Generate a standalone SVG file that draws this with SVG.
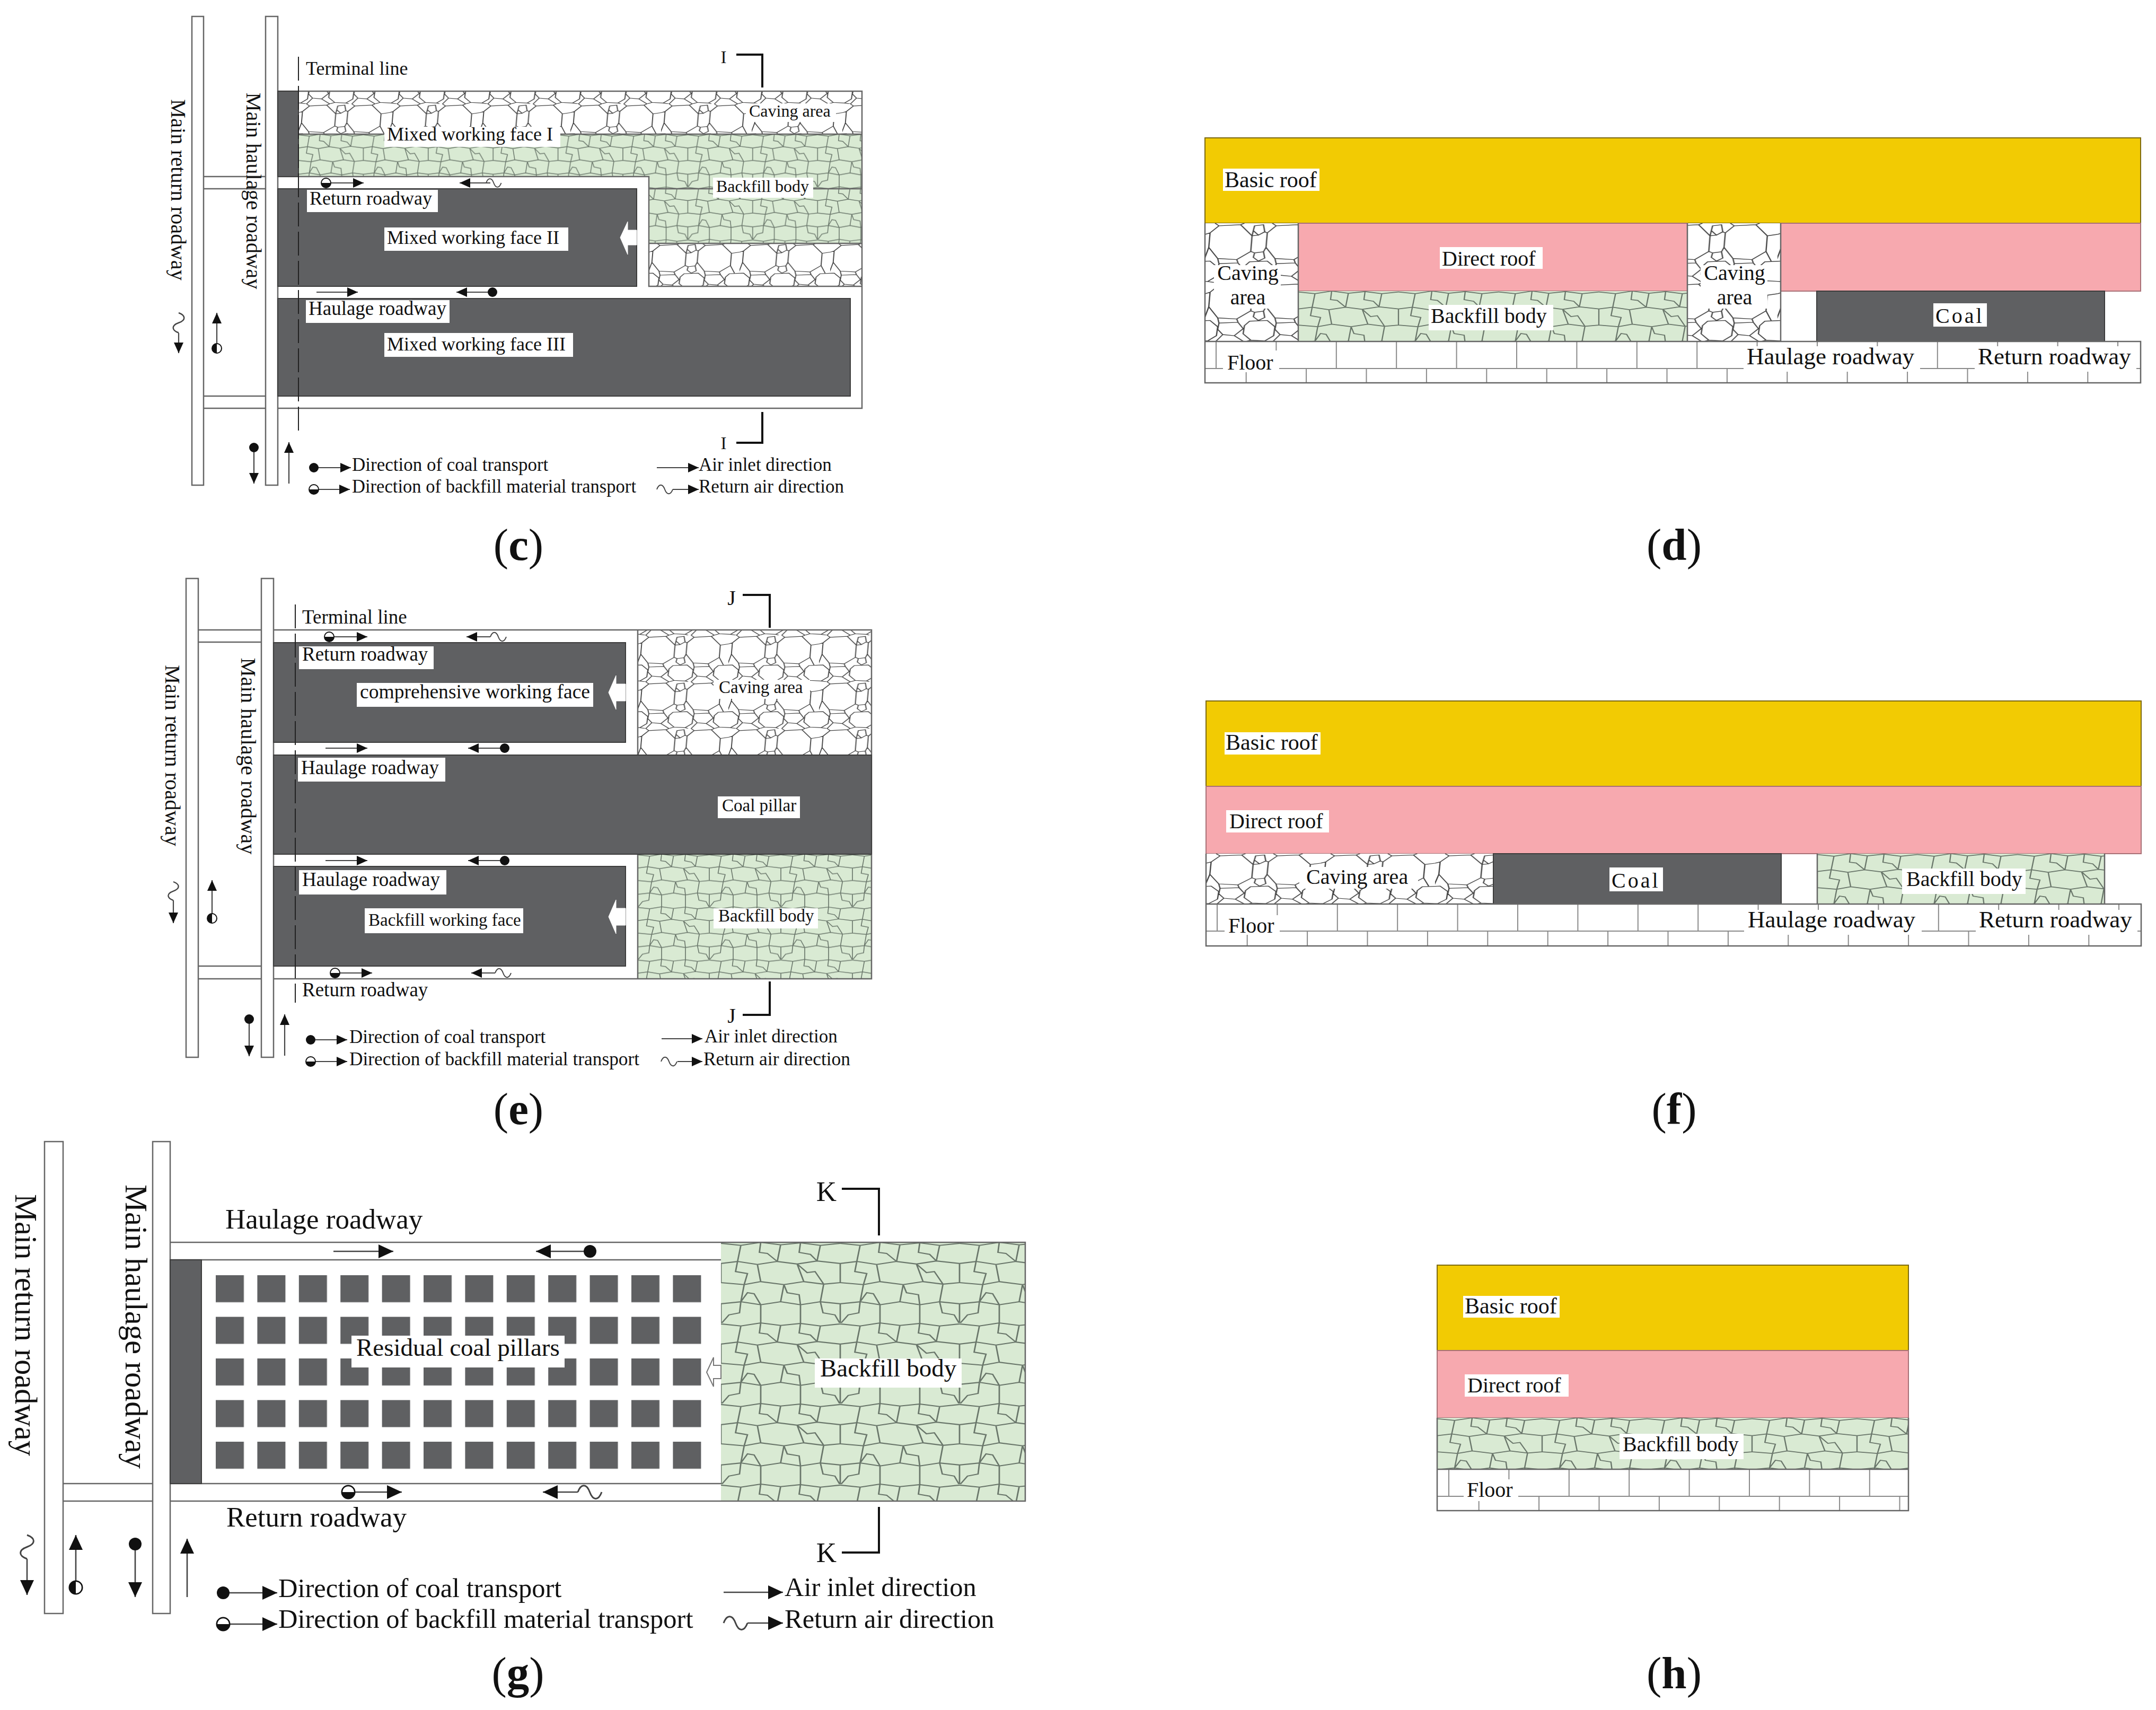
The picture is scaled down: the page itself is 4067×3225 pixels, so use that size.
<svg xmlns="http://www.w3.org/2000/svg" width="4067" height="3225" viewBox="0 0 4067 3225">
<style>
text{font-family:"Liberation Serif","Times New Roman",serif;fill:#111}
.s32{font-size:32px}.s33{font-size:33px}.s35{font-size:35px}.s36{font-size:36px}.s37{font-size:37px}.s40{font-size:40px}.s41{font-size:40.5px}.s42{font-size:42px}.s45{font-size:45px}.s47{font-size:47px}.s51{font-size:50.5px}.s53{font-size:53px}.s60{font-size:58.5px}.cap{font-size:85px}
.m{text-anchor:middle}
.lb{fill:#fff}
.rd{fill:#fff;stroke:#666;stroke-width:2.5}
.ln{fill:none;stroke:#666;stroke-width:2.5}
.dk{fill:#5f6062;stroke:#3c3c3c;stroke-width:2}
.ye{fill:#f2cb03;stroke:#7d6a10;stroke-width:2}
.pk{fill:#f7a9af;stroke:#a87076;stroke-width:2}
.dash{fill:none;stroke:#222;stroke-width:2;stroke-dasharray:45 10}
.sec{fill:none;stroke:#111;stroke-width:4}
.ar{fill:none;stroke:#444;stroke-width:2.2;marker-end:url(#a)}
.AR{fill:none;stroke:#444;stroke-width:2.6;marker-end:url(#A)}
.wv{fill:none;stroke:#444;stroke-width:2}
.blk{fill:#fff;stroke:#fff}
.blo{fill:#fff;stroke:#777;stroke-width:2}
</style>
<defs>
<marker id="a" markerUnits="userSpaceOnUse" markerWidth="22" markerHeight="20" refX="20" refY="10" orient="auto"><path d="M0 1L20 10L0 19Z" fill="#111"/></marker>
<marker id="A" markerUnits="userSpaceOnUse" markerWidth="30" markerHeight="28" refX="28" refY="14" orient="auto"><path d="M0 1L28 14L0 27Z" fill="#111"/></marker>
<g id="half"><circle r="9" fill="#fff" stroke="#111" stroke-width="2"/><path d="M-9 0A9 9 0 0 0 9 0Z" fill="#111"/></g>
<path id="wave" d="M0 0C4 -11 11 -11 15 0S26 11 30 0" class="wv"/>
<pattern id="cave" patternUnits="userSpaceOnUse" width="180" height="160">
<rect width="180" height="160" fill="#fff"/>
<path fill="none" stroke="#444" stroke-width="2" d="M22 7L56 4L74 34L72 76L50 98L20 95L6 65L8 26ZM112 7L146 4L164 34L162 76L140 98L110 95L96 65L98 26ZM78 7L92 4L94 23L84 32L76 20ZM78 80L92 77L94 94L84 102L76 92ZM70 104L98 102L110 119L108 143L94 157L72 155L60 138L62 116ZM160 104L188 102L200 119L198 143L184 157L162 155L150 138L152 116ZM-20 104L8 102L20 119L18 143L4 157L-18 155L-30 138L-28 116ZM22 109L52 107L60 124L46 143L28 140L20 126ZM112 109L142 107L150 124L136 143L118 140L110 126ZM22 7L16 0M56 4L62 0M112 7L106 0M146 4L152 0M74 34L76 20M94 23L98 26M164 34L180 30M0 30L8 26M74 34L84 32M20 95L22 109M50 98L52 107M110 95L112 109M140 98L142 107M72 76L78 80M92 77L96 65M162 76L170 102M6 65L-2 102M28 140L16 160M46 143L62 160M118 140L106 160M136 143L152 160M94 157L100 160M72 155L62 160M4 157L16 160M162 155L152 160"/>
</pattern>
<pattern id="cave-a" href="#cave" patternTransform="translate(563,196) scale(.95,.55)"/>
<pattern id="cave-b" href="#cave" patternTransform="translate(1224,459) scale(.95,.55)"/>
<pattern id="cave-e" href="#cave" patternTransform="translate(1203,1198) scale(.95,.55)"/>
<pattern id="cave-d" href="#cave" patternTransform="translate(2273,421) scale(1.2,.7)"/>
<pattern id="cave-f" href="#cave" patternTransform="translate(2275,1610) scale(1.2,.6)"/>
<pattern id="fill" patternUnits="userSpaceOnUse" width="180" height="160">
<rect width="180" height="160" fill="#d9ead3"/>
<path fill="none" stroke="#69766a" stroke-width="2.2" d="M0 2L30 6L60 0L90 5L120 1L150 6L180 2M0 42L25 38L55 44L85 38L115 43L145 37L180 42M0 80L35 84L60 78L95 84L125 78L155 83L180 80M0 122L30 118L60 124L90 118L120 124L150 118L180 122M0 162L30 166L60 160L90 165L120 161L150 166L180 162M30 6L25 38M90 5L85 38M150 6L145 37M55 44L60 78M115 43L125 78M180 42L180 80M0 42L0 80M35 84L30 118M95 84L90 118M155 83L150 118M60 124L60 160M120 124L120 161M0 122L0 162M180 122L180 162M60 0L58 20L70 22L85 38M115 43L130 60L142 58L155 83M30 118L40 100L50 102L60 124M120 1L118 20L135 24L145 37M95 84L100 100L118 104L120 124M25 38L22 58L40 62L35 84M150 118L154 140L172 144L180 162M30 118L28 140L12 144L0 162"/>
</pattern>
<pattern id="fill-c" href="#fill" patternTransform="translate(563,253) scale(.68,.62)"/>
<pattern id="fill-e" href="#fill" patternTransform="translate(1203,1611) scale(.75,.62)"/>
<pattern id="fill-g" href="#fill" patternTransform="translate(1360,2343) scale(1.25,.95)"/>
<pattern id="fill-d" href="#fill" patternTransform="translate(2449,549) scale(1.05,.8)"/>
<pattern id="fill-f" href="#fill" patternTransform="translate(3428,1610) scale(1.05,.8)"/>
<pattern id="fill-h" href="#fill" patternTransform="translate(2711,2674) scale(1.1,.8)"/>
<pattern id="flr" patternUnits="userSpaceOnUse" width="113.4" height="78">
<rect width="113.4" height="78" fill="#fff"/>
<path fill="none" stroke="#8a8a8a" stroke-width="2" d="M1 0V51M57.7 51V78M0 51H113.4"/>
</pattern>
<pattern id="flr-d" href="#flr" patternTransform="translate(2293,644)"/>
<pattern id="flr-f" href="#flr" patternTransform="translate(2295,1705)"/>
<pattern id="flr-h" href="#flr" patternTransform="translate(2732,2771)"/>
<pattern id="pil" patternUnits="userSpaceOnUse" width="78.4" height="78.5" patternTransform="translate(407,2405)">
<rect width="53" height="51" fill="#5f6062"/>
</pattern>
</defs>

<rect width="4067" height="3225" fill="#fff"/>

<g id="panel-c">
<rect class="rd" x="362" y="31" width="22" height="884"/>
<rect class="rd" x="501" y="31" width="23" height="884"/>
<path class="ln" d="M384 333H501M384 356H501M384 747H501M384 770H501"/>
<rect x="563" y="172" width="1063" height="81" fill="url(#cave-a)"/>
<rect x="563" y="253" width="661" height="80" fill="url(#fill-c)"/>
<rect x="1224" y="253" width="402" height="206" fill="url(#fill-c)"/>
<rect x="1224" y="459" width="402" height="81" fill="url(#cave-b)"/>
<path class="ln" d="M563 253H1626M1224 459H1626M1224 356H1626M524 333H1224V540H1626M524 172H1626V770H524"/>
<rect class="dk" x="524" y="172" width="39" height="161"/>
<rect class="dk" x="524" y="356" width="677" height="184"/>
<rect class="dk" x="524" y="563" width="1080" height="184"/>
<path class="dash" d="M563 107V813"/>
<path class="blk" d="M1170 448L1184 418V434H1201V462H1184V480Z"/>
<rect class="lb" x="725" y="239" width="332" height="38"/><text class="s36" x="730" y="265">Mixed working face I</text>
<rect class="lb" x="1407" y="195" width="170" height="35"/><text class="s32" x="1413" y="220">Caving area</text>
<rect class="lb" x="1345" y="335" width="189" height="38"/><text class="s32" x="1351" y="362">Backfill body</text>
<rect class="lb" x="579" y="358" width="247" height="42"/><text class="s36" x="584" y="386">Return roadway</text>
<rect class="lb" x="725" y="429" width="347" height="44"/><text class="s36" x="730" y="460">Mixed working face II</text>
<rect class="lb" x="577" y="566" width="271" height="43"/><text class="s37" x="582" y="594">Haulage roadway</text>
<rect class="lb" x="725" y="628" width="356" height="45"/><text class="s36" x="730" y="661">Mixed working face III</text>
<text class="s36" x="577" y="141">Terminal line</text>
<text class="s41 m" transform="translate(323,358) rotate(90)">Main return roadway</text>
<text class="s41 m" transform="translate(465,360) rotate(90)">Main haulage roadway</text>
<text class="s33 m" x="1365" y="119">I</text><text class="s33 m" x="1365" y="847">I</text>
<text class="s35" x="664" y="888">Direction of coal transport</text>
<text class="s35" x="664" y="929" textLength="536" lengthAdjust="spacingAndGlyphs">Direction of backfill material transport</text>
<text class="s35" x="1318" y="888">Air inlet direction</text>
<text class="s35" x="1318" y="929">Return air direction</text>
</g>
<g id="connectors-c">
<path class="sec" d="M1389 103H1438V165M1438 777V835H1389"/>
<path class="ar" d="M623 345H686"/><use href="#half" transform="translate(615,345)"/>
<path class="ar" d="M925 345H867"/><use href="#wave" transform="translate(917,345) scale(.95)"/>
<path class="ar" d="M597 551H675"/>
<path class="ar" d="M929 551H861"/><circle cx="929" cy="551" r="9" fill="#111"/>
<path class="ar" d="M337 628V666"/><use href="#wave" transform="translate(337,590) rotate(90) scale(1.25)"/>
<path class="ar" d="M409 657V590"/><use href="#half" transform="translate(409,657) rotate(90)"/>
<path class="ar" d="M479 844V912"/><circle cx="479" cy="844" r="9" fill="#111"/>
<path class="ar" d="M545 912V834"/>
<path class="ar" d="M592 882H662"/><circle cx="592" cy="882" r="9" fill="#111"/>
<path class="ar" d="M592 923H660"/><use href="#half" transform="translate(592,923)"/>
<path class="ar" d="M1239 882H1318"/>
<path class="ar" d="M1269 923H1318"/><use href="#wave" transform="translate(1239,923)"/>
</g>

<g id="panel-d">
<rect class="ye" x="2273" y="260" width="1765" height="161"/>
<rect x="2273" y="421" width="176" height="223" fill="url(#cave-d)"/>
<rect x="3183" y="421" width="176" height="223" fill="url(#cave-d)"/>
<rect class="pk" x="2449" y="421" width="734" height="128"/>
<rect class="pk" x="3359" y="421" width="679" height="128"/>
<rect x="2449" y="549" width="734" height="95" fill="url(#fill-d)"/>
<rect class="dk" x="3427" y="549" width="543" height="95"/>
<rect x="2273" y="644" width="1765" height="78" fill="url(#flr-d)"/>
<path class="ln" d="M2273 644H4038V722H2273ZM2273 421V644M2449 421V644M3183 421V644M3359 421V644"/>
<rect class="lb" x="2307" y="318" width="182" height="42"/><text class="s42" x="2310" y="353">Basic roof</text>
<rect class="lb" x="2716" y="466" width="194" height="41"/><text class="s40" x="2720" y="501">Direct roof</text>
<rect class="lb" x="2290" y="500" width="126" height="82"/><text class="s40 m" x="2354" y="528">Caving</text><text class="s40 m" x="2354" y="574">area</text>
<rect class="lb" x="3208" y="500" width="126" height="82"/><text class="s40 m" x="3272" y="528">Caving</text><text class="s40 m" x="3272" y="574">area</text>
<rect class="lb" x="2695" y="575" width="235" height="48"/><text class="s40" x="2699" y="609">Backfill body</text>
<rect class="lb" x="3647" y="572" width="101" height="44"/><text class="s40" x="3651" y="609" letter-spacing="4">Coal</text>
<rect class="lb" x="2307" y="661" width="106" height="41"/><text class="s40" x="2315" y="697">Floor</text>
<rect class="lb" x="3289" y="653" width="333" height="48"/><text class="s45" x="3295" y="687">Haulage roadway</text>
<rect class="lb" x="3725" y="653" width="305" height="48"/><text class="s45" x="3731" y="687">Return roadway</text>
</g>

<g id="panel-e">
<rect class="rd" x="351" y="1091" width="23" height="903"/>
<rect class="rd" x="493" y="1091" width="23" height="903"/>
<path class="ln" d="M374 1188H493M374 1211H493M374 1822H493M374 1846H493"/>
<rect x="1203" y="1188" width="441" height="236" fill="url(#cave-e)"/>
<rect x="1203" y="1611" width="441" height="235" fill="url(#fill-e)"/>
<path class="ln" d="M516 1188H1644V1846H516M1203 1188V1846"/>
<rect class="dk" x="516" y="1212" width="664" height="188"/>
<rect class="dk" x="516" y="1424" width="1128" height="187"/>
<rect class="dk" x="516" y="1634" width="664" height="188"/>
<path class="dash" d="M557 1140V1891"/>
<path class="blk" d="M1148 1306L1162 1274V1290H1180V1322H1162V1338Z"/>
<path class="blk" d="M1148 1729L1162 1697V1713H1180V1745H1162V1761Z"/>
<text class="s37" x="570" y="1176">Terminal line</text>
<rect class="lb" x="564" y="1219" width="254" height="43"/><text class="s37" x="570" y="1246">Return roadway</text>
<rect class="lb" x="673" y="1288" width="446" height="45"/><text class="s37" x="679" y="1317" textLength="434" lengthAdjust="spacingAndGlyphs">comprehensive working face</text>
<rect class="lb" x="1346" y="1282" width="182" height="36"/><text class="s33" x="1356" y="1307">Caving area</text>
<rect class="lb" x="562" y="1429" width="278" height="45"/><text class="s37" x="568" y="1460">Haulage roadway</text>
<rect class="lb" x="1354" y="1502" width="155" height="41"/><text class="s33" x="1362" y="1530">Coal pillar</text>
<rect class="lb" x="564" y="1641" width="278" height="46"/><text class="s37" x="570" y="1671">Haulage roadway</text>
<rect class="lb" x="688" y="1713" width="299" height="47"/><text class="s33" x="695" y="1746">Backfill working face</text>
<rect class="lb" x="1346" y="1713" width="197" height="38"/><text class="s33" x="1355" y="1738">Backfill body</text>
<text class="s37" x="570" y="1879">Return roadway</text>
<text class="s41 m" transform="translate(312,1425) rotate(90)">Main return roadway</text>
<text class="s41 m" transform="translate(455,1426) rotate(90)">Main haulage roadway</text>
<text class="s40 m" x="1380" y="1141">J</text><text class="s40 m" x="1380" y="1929">J</text>
<text class="s35" x="659" y="1967">Direction of coal transport</text>
<text class="s35" x="659" y="2009" textLength="547" lengthAdjust="spacingAndGlyphs">Direction of backfill material transport</text>
<text class="s35" x="1329" y="1966">Air inlet direction</text>
<text class="s35" x="1327" y="2009" textLength="277" lengthAdjust="spacingAndGlyphs">Return air direction</text>
</g>
<g id="connectors-e">
<path class="sec" d="M1401 1122H1452V1184M1452 1851V1914H1401"/>
<path class="ar" d="M629 1201H693"/><use href="#half" transform="translate(621,1201)"/>
<path class="ar" d="M925 1201H880"/><use href="#wave" transform="translate(925,1201)"/>
<path class="ar" d="M614 1411H693"/>
<path class="ar" d="M952 1411H883"/><circle cx="952" cy="1411" r="9" fill="#111"/>
<path class="ar" d="M614 1623H693"/>
<path class="ar" d="M952 1623H883"/><circle cx="952" cy="1623" r="9" fill="#111"/>
<path class="ar" d="M640 1835H702"/><use href="#half" transform="translate(632,1835)"/>
<path class="ar" d="M934 1835H889"/><use href="#wave" transform="translate(934,1835)"/>
<path class="ar" d="M327 1698V1741"/><use href="#wave" transform="translate(327,1663) rotate(90) scale(1.17)"/>
<path class="ar" d="M400 1732V1660"/><use href="#half" transform="translate(400,1732) rotate(90)"/>
<path class="ar" d="M470 1922V1992"/><circle cx="470" cy="1922" r="9" fill="#111"/>
<path class="ar" d="M537 1991V1913"/>
<path class="ar" d="M586 1961H655"/><circle cx="586" cy="1961" r="9" fill="#111"/>
<path class="ar" d="M586 2002H655"/><use href="#half" transform="translate(586,2002)"/>
<path class="ar" d="M1248 1959H1325"/>
<path class="ar" d="M1278 2002H1325"/><use href="#wave" transform="translate(1247,2002)"/>
</g>

<g id="panel-f">
<rect class="ye" x="2275" y="1322" width="1764" height="161"/>
<rect class="pk" x="2275" y="1483" width="1764" height="127"/>
<rect x="2275" y="1610" width="542" height="95" fill="url(#cave-f)"/>
<rect class="dk" x="2817" y="1610" width="543" height="95"/>
<rect x="3428" y="1610" width="542" height="95" fill="url(#fill-f)"/>
<rect x="2275" y="1705" width="1764" height="79" fill="url(#flr-f)"/>
<path class="ln" d="M2275 1705H4039V1784H2275ZM2275 1610V1705M3970 1610V1705M3428 1610V1705"/>
<rect class="lb" x="2310" y="1381" width="181" height="42"/><text class="s42" x="2312" y="1414">Basic roof</text>
<rect class="lb" x="2313" y="1528" width="194" height="42"/><text class="s40" x="2319" y="1562">Direct roof</text>
<rect class="lb" x="2451" y="1635" width="224" height="41"/><text class="s40" x="2464" y="1667">Caving area</text>
<rect class="lb" x="3036" y="1636" width="101" height="45"/><text class="s40" x="3040" y="1674" letter-spacing="4">Coal</text>
<rect class="lb" x="3588" y="1638" width="233" height="48"/><text class="s40" x="3596" y="1671">Backfill body</text>
<rect class="lb" x="2310" y="1726" width="104" height="37"/><text class="s40" x="2317" y="1759">Floor</text>
<rect class="lb" x="3290" y="1716" width="335" height="47"/><text class="s45" x="3297" y="1749">Haulage roadway</text>
<rect class="lb" x="3727" y="1716" width="305" height="47"/><text class="s45" x="3733" y="1749">Return roadway</text>
</g>

<g id="panel-g">
<rect class="rd" x="84" y="2153" width="35" height="890"/>
<rect class="rd" x="288" y="2153" width="33" height="890"/>
<path class="ln" d="M119 2798H288M119 2831H288"/>
<rect x="1360" y="2343" width="574" height="488" fill="url(#fill-g)"/>
<path class="ln" d="M321 2343H1934V2831H321M321 2376H1360M321 2798H1360"/>
<rect class="dk" x="321" y="2376" width="59" height="422"/>
<rect x="407" y="2405" width="916" height="366" fill="url(#pil)"/>
<path class="blo" d="M1333 2588L1346 2560V2575H1360V2600H1346V2615Z"/>
<rect class="lb" x="663" y="2519" width="402" height="60"/><text class="s47" x="672" y="2557">Residual coal pillars</text>
<rect class="lb" x="1537" y="2562" width="277" height="55"/><text class="s47" x="1547" y="2596">Backfill body</text>
<text class="s53" x="425" y="2317">Haulage roadway</text>
<text class="s53" x="427" y="2879">Return roadway</text>
<text class="s60 m" transform="translate(29,2499) rotate(90)">Main return roadway</text>
<text class="s60 m" transform="translate(237,2502) rotate(90)">Main haulage roadway</text>
<text class="s53 m" x="1559" y="2265">K</text><text class="s53 m" x="1559" y="2946">K</text>
<text class="s51" x="525" y="3012">Direction of coal transport</text>
<text class="s51" x="525" y="3070">Direction of backfill material transport</text>
<text class="s51" x="1480" y="3010">Air inlet direction</text>
<text class="s51" x="1480" y="3070">Return air direction</text>
</g>
<g id="connectors-g">
<path class="sec" d="M1588 2242H1658V2330M1658 2842V2928H1588"/>
<path class="AR" d="M629 2360H742"/>
<path class="AR" d="M1113 2360H1011"/><circle cx="1113" cy="2360" r="12" fill="#111"/>
<path class="AR" d="M668 2814H758"/><use href="#half" transform="translate(657,2814) scale(1.35)"/>
<path class="AR" d="M1090 2814H1024"/><use href="#wave" transform="translate(1090,2814) scale(1.5)"/>
<path class="AR" d="M51 2940V3008"/><use href="#wave" transform="translate(51,2895) rotate(90) scale(1.5)"/>
<path class="AR" d="M143 2994V2895"/><use href="#half" transform="translate(143,2994) rotate(90) scale(1.35)"/>
<path class="AR" d="M255 2912V3012"/><circle cx="255" cy="2912" r="12" fill="#111"/>
<path class="AR" d="M353 3012V2902"/>
<path class="AR" d="M421 3004H523"/><circle cx="421" cy="3004" r="12" fill="#111"/>
<path class="AR" d="M421 3063H523"/><use href="#half" transform="translate(421,3063) scale(1.35)"/>
<path class="AR" d="M1365 3003H1477"/>
<path class="AR" d="M1410 3061H1477"/><use href="#wave" transform="translate(1365,3061) scale(1.5)"/>
</g>

<g id="panel-h">
<rect class="ye" x="2711" y="2386" width="889" height="161"/>
<rect class="pk" x="2711" y="2547" width="889" height="127"/>
<rect x="2711" y="2674" width="889" height="97" fill="url(#fill-h)"/>
<rect x="2711" y="2771" width="889" height="78" fill="url(#flr-h)"/>
<path class="ln" d="M2711 2771H3600V2849H2711ZM2711 2674V2771M3600 2674V2771"/>
<rect class="lb" x="2760" y="2444" width="182" height="41"/><text class="s42" x="2763" y="2477">Basic roof</text>
<rect class="lb" x="2763" y="2592" width="196" height="42"/><text class="s40" x="2768" y="2626">Direct roof</text>
<rect class="lb" x="3055" y="2704" width="234" height="48"/><text class="s40" x="3061" y="2737">Backfill body</text>
<rect class="lb" x="2761" y="2790" width="103" height="41"/><text class="s40" x="2767" y="2823">Floor</text>
</g>

<g id="captions">
<text class="cap m" x="978" y="1056">(<tspan font-weight="700">c</tspan>)</text>
<text class="cap m" x="3158" y="1056">(<tspan font-weight="700">d</tspan>)</text>
<text class="cap m" x="978" y="2120">(<tspan font-weight="700">e</tspan>)</text>
<text class="cap m" x="3158" y="2120">(<tspan font-weight="700">f</tspan>)</text>
<text class="cap m" x="977" y="3184">(<tspan font-weight="700">g</tspan>)</text>
<text class="cap m" x="3158" y="3184">(<tspan font-weight="700">h</tspan>)</text>
</g>
</svg>
